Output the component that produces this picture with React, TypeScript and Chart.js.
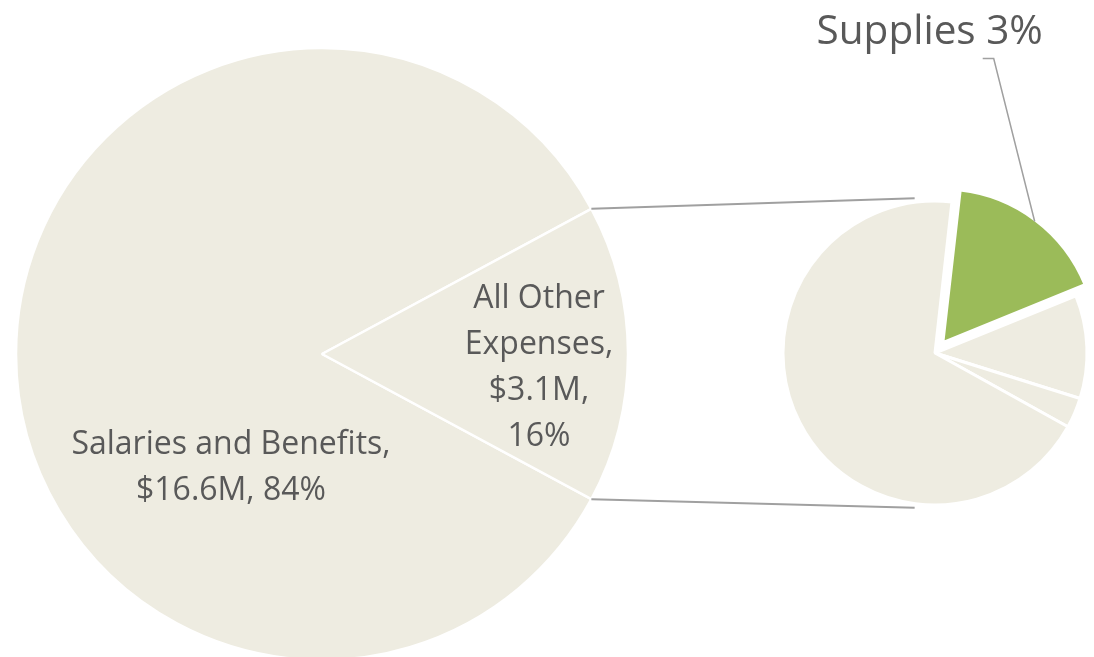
import React, { useEffect, useRef } from "react";
import { Chart, registerables } from "chart.js";

Chart.register(...registerables);

// ---- data ----
const mainLabels = ["Salaries and Benefits", "All Other Expenses"];
const mainValues = [16.6, 3.1]; // $M
const mainLabelLines = [
  ["Salaries and Benefits,", "$16.6M, 84%"],
  ["All Other", "Expenses,", "$3.1M,", "16%"],
];
const subLabels = ["Supplies", "Other expense A", "Other expense B", "Other expense C"];
const subValues = [0.53, 0.34, 0.1, 2.13]; // $M, breakdown of All Other Expenses
const subCaption = "Supplies 3%";

// ---- styles ----
const BEIGE = "#EEECE1";
const GREEN = "#9BBB59";
const TEXT = "#595959";
const LINE = "#A0A0A0";
const FONT = '"Open Sans", "Noto Sans", sans-serif';
const W = 1094;
const H = 657;
const CH = 700;

// label placement (offset from pie centre: dx, first baseline dy)
const mainLabelPos = [
  { dx: -91, dy: 99.5 },
  { dx: 217, dy: -46 },
];
const LINE_H = 46;

export default function App() {
  const mainRef = useRef<HTMLCanvasElement | null>(null);
  const subRef = useRef<HTMLCanvasElement | null>(null);

  useEffect(() => {
    if (!mainRef.current || !subRef.current) return;
    const total = mainValues.reduce((a, b) => a + b, 0);
    const otherAngle = (mainValues[1] / total) * 360;

    const mainLabelPlugin = {
      id: "mainLabels",
      afterDatasetsDraw(chart: any) {
        const ctx = chart.ctx;
        const arc = chart.getDatasetMeta(0).data[0];
        const cx = arc.x;
        const cy = arc.y;
        ctx.save();
        ctx.fillStyle = TEXT;
        ctx.font = `32px ${FONT}`;
        ctx.textAlign = "center";
        ctx.textBaseline = "alphabetic";
        mainLabelLines.forEach((lines, i) => {
          const p = mainLabelPos[i];
          lines.forEach((t, j) => {
            ctx.fillText(t, cx + p.dx, cy + p.dy + j * LINE_H);
          });
        });
        ctx.restore();
      },
    };

    const mainChart = new Chart(mainRef.current, {
      type: "pie",
      data: {
        labels: mainLabels,
        datasets: [
          {
            data: mainValues,
            backgroundColor: [BEIGE, BEIGE],
            borderColor: "#ffffff",
            borderWidth: 2.5,
          },
        ],
      },
      options: {
        responsive: false,
        animation: false,
        events: [],
        rotation: 90 + otherAngle / 2,
        radius: 306,
        layout: { padding: { left: 0, right: 450, top: 8, bottom: 0 } },
        plugins: { legend: { display: false }, tooltip: { enabled: false } },
      } as any,
      plugins: [mainLabelPlugin],
    });

    const connectorPlugin = {
      id: "connectors",
      beforeDatasetsDraw(chart: any) {
        const ctx = chart.ctx;
        const m: any = mainChart.getDatasetMeta(0).data[1];
        const s: any = chart.getDatasetMeta(0).data[1];
        const R = m.outerRadius;
        const r = s.outerRadius + 4;
        const a = (97.5 * Math.PI) / 180;
        ctx.save();
        ctx.strokeStyle = LINE;
        ctx.lineWidth = 2;
        ctx.beginPath();
        ctx.moveTo(m.x + R * Math.cos(m.startAngle), m.y + R * Math.sin(m.startAngle));
        ctx.lineTo(s.x + r * Math.cos(-a), s.y + r * Math.sin(-a));
        ctx.moveTo(m.x + R * Math.cos(m.endAngle), m.y + R * Math.sin(m.endAngle));
        ctx.lineTo(s.x + r * Math.cos(a), s.y + r * Math.sin(a));
        ctx.stroke();
        ctx.restore();
      },
    };

    const supplyLabelPlugin = {
      id: "supplyLabel",
      afterDatasetsDraw(chart: any) {
        const ctx = chart.ctx;
        const g: any = chart.getDatasetMeta(0).data[0];
        const mid = (g.startAngle + g.endAngle) / 2;
        const off = (g.options.offset || 0) / 4;
        const tx = g.x + Math.cos(mid) * (off + g.outerRadius);
        const ty = g.y + Math.sin(mid) * (off + g.outerRadius);
        const ex = tx - 41;
        const ey = ty - 163;
        ctx.save();
        ctx.strokeStyle = LINE;
        ctx.lineWidth = 1.5;
        ctx.beginPath();
        ctx.moveTo(tx, ty);
        ctx.lineTo(ex, ey);
        ctx.lineTo(ex - 11, ey);
        ctx.stroke();
        ctx.fillStyle = TEXT;
        ctx.font = `40.5px ${FONT}`;
        ctx.textAlign = "center";
        ctx.textBaseline = "alphabetic";
        ctx.fillText(subCaption, ex - 64, ey - 15);
        ctx.restore();
      },
    };

    const subChart = new Chart(subRef.current, {
      type: "pie",
      data: {
        labels: subLabels,
        datasets: [
          {
            data: subValues,
            backgroundColor: [GREEN, BEIGE, BEIGE, BEIGE],
            borderColor: "#ffffff",
            borderWidth: 3,
            offset: [52, 0, 0, 0],
          },
        ],
      },
      options: {
        responsive: false,
        animation: false,
        events: [],
        rotation: 6.4,
        radius: 152,
        layout: { padding: { left: 776, right: 0, top: 6, bottom: 0 } },
        plugins: { legend: { display: false }, tooltip: { enabled: false } },
      } as any,
      plugins: [connectorPlugin, supplyLabelPlugin],
    });

    return () => {
      subChart.destroy();
      mainChart.destroy();
    };
  }, []);

  return (
    <div
      style={{
        position: "fixed",
        left: 0,
        top: 0,
        width: W,
        height: H,
        overflow: "hidden",
        background: "#ffffff",
      }}
    >
      <canvas ref={mainRef} width={W} height={CH} style={{ position: "absolute", left: 0, top: 0 }} />
      <canvas ref={subRef} width={W} height={CH} style={{ position: "absolute", left: 0, top: 0 }} />
    </div>
  );
}
